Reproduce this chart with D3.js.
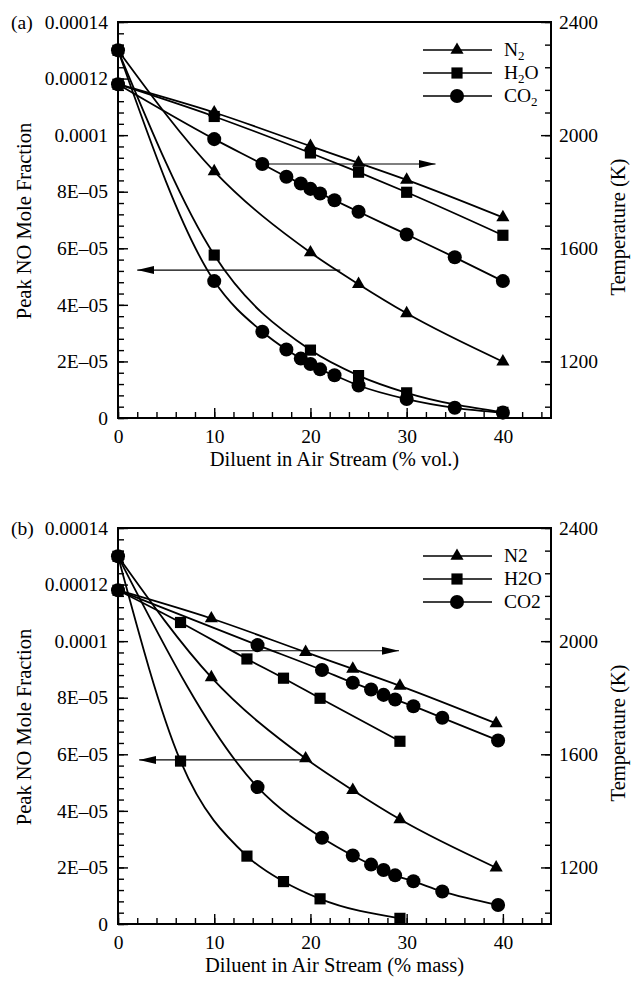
<!DOCTYPE html>
<html>
<head>
<meta charset="utf-8">
<script src="https://cdn.jsdelivr.net/npm/d3@7.9.0/dist/d3.min.js"></script>
<style>
  body { margin: 0; background: #fff; }
  svg text { font-family: "Liberation Serif", "Times New Roman", serif; fill: #000; }
</style>
</head>
<body>
<svg id="chart" width="631" height="981"></svg>
<script>
// diluent amount: (a) in % vol, (b) the same cases in % mass
const volN2 = [0, 10, 20, 25, 30, 40];
const volH2O = [0, 10, 20, 25, 30, 40];
const volCO2 = [0, 10, 15, 17.5, 19, 20, 21, 22.5, 25, 30, 35, 40];
const massN2 = [0, 9.7, 19.5, 24.4, 29.3, 39.3];
const massH2O = [0, 6.5, 13.4, 17.2, 21.0, 29.3];
const massCO2 = [0, 14.5, 21.2, 24.4, 26.3, 27.6, 28.8, 30.7, 33.7, 39.5];

// peak NO mole fraction (left axis)
const noN2 = [1.30e-4, 8.72e-5, 5.85e-5, 4.73e-5, 3.70e-5, 1.99e-5];
const noH2O = [1.30e-4, 5.76e-5, 2.40e-5, 1.50e-5, 8.9e-6, 2.0e-6];
const noCO2 = [1.30e-4, 4.84e-5, 3.05e-5, 2.42e-5, 2.10e-5, 1.91e-5, 1.72e-5, 1.51e-5, 1.15e-5, 6.7e-6, 3.6e-6, 1.9e-6];

// temperature, K (right axis)
const tN2 = [2180, 2080, 1961, 1902, 1842, 1709];
const tH2O = [2180, 2066, 1937, 1869, 1798, 1646];
const tCO2 = [2180, 1986, 1898, 1853, 1829, 1810, 1794, 1770, 1729, 1649, 1568, 1484];

const xTicks = [0, 10, 20, 30, 40];
const noTicks = [0, 2e-5, 4e-5, 6e-5, 8e-5, 1e-4, 1.2e-4, 1.4e-4];
const noTickLabels = ['0', '2E\u201305', '4E\u201305', '6E\u201305', '8E\u201305', '0.0001', '0.00012', '0.00014'];
const tTicks = [1200, 1600, 2000, 2400];

// arrows telling which axis a group of curves belongs to: [axis, level, fromX, toX]
const arrowsVol = [['no', 5.23e-5, 23.1, 2.0], ['t', 1898, 15, 33]];
const arrowsMass = [['no', 5.8e-5, 19.5, 2.2], ['t', 1966, 11.9, 29.2]];

const svg = d3.select('#chart');
const left = 118, right = 551, plotH = 396;
const serif = '"Liberation Serif", "Times New Roman", serif';

svg.append('defs').append('marker')
  .attr('id', 'head')
  .attr('markerUnits', 'userSpaceOnUse')
  .attr('markerWidth', 18).attr('markerHeight', 10)
  .attr('refX', 17).attr('refY', 5)
  .attr('orient', 'auto')
  .append('path').attr('d', 'M0,1L17,5L0,9Z').attr('fill', '#000');

const shapes = { N2: d3.symbolTriangle, H2O: d3.symbolSquare, CO2: d3.symbolCircle };
const sizes = { N2: 75, H2O: 125, CO2: 155 };

function drawPanel(p) {
  const g = svg.append('g');
  const bottom = p.top + plotH;
  const x = d3.scaleLinear().domain([0, 45]).range([left, right]);
  const yNO = d3.scaleLinear().domain([0, 1.4e-4]).range([bottom, p.top]);
  const yT = d3.scaleLinear().domain([1000, 2400]).range([bottom, p.top]);

  // ticks, all pointing into the plot
  const axes = g.append('g');
  axes.append('g').attr('transform', `translate(0,${bottom})`)
    .call(d3.axisBottom(x).tickValues(d3.range(0, 45, 2)).tickSize(-6).tickSizeOuter(0).tickFormat(''));
  axes.append('g').attr('transform', `translate(0,${bottom})`)
    .call(d3.axisBottom(x).tickValues(xTicks).tickSize(-10).tickSizeOuter(0).tickPadding(11).tickFormat(d3.format('d')));
  axes.append('g').attr('transform', `translate(${left},0)`)
    .call(d3.axisLeft(yNO).tickValues(d3.range(36).map(i => i * 4e-6)).tickSize(-6).tickSizeOuter(0).tickFormat(''));
  axes.append('g').attr('transform', `translate(${left},0)`)
    .call(d3.axisLeft(yNO).tickValues(noTicks).tickSize(-10).tickSizeOuter(0).tickPadding(10)
      .tickFormat((d, i) => noTickLabels[i]));
  axes.append('g').attr('transform', `translate(${right},0)`)
    .call(d3.axisRight(yT).tickValues(d3.range(1040, 2401, 80)).tickSize(-6).tickSizeOuter(0).tickFormat(''));
  axes.append('g').attr('transform', `translate(${right},0)`)
    .call(d3.axisRight(yT).tickValues(tTicks).tickSize(-10).tickSizeOuter(0).tickPadding(8).tickFormat(d3.format('d')));
  axes.selectAll('.domain').remove();
  axes.selectAll('g').attr('font-family', serif).attr('font-size', 19.5);
  axes.selectAll('line').attr('stroke-width', 1.4);

  g.append('rect')
    .attr('x', left).attr('y', p.top)
    .attr('width', right - left).attr('height', plotH)
    .attr('fill', 'none').attr('stroke', '#000').attr('stroke-width', 2);

  // curves
  const series = [];
  p.sets.forEach(s => {
    series.push({ key: s.key, pts: s.xs.map((v, i) => [x(v), yNO(s.no[i])]) });
    series.push({ key: s.key, pts: s.xs.map((v, i) => [x(v), yT(s.t[i])]) });
  });
  const line = d3.line().curve(d3.curveMonotoneX);
  g.selectAll('path.curve').data(series).join('path')
    .attr('class', 'curve')
    .attr('d', d => line(d.pts))
    .attr('fill', 'none').attr('stroke', '#000').attr('stroke-width', 1.8);

  series.forEach(s => {
    g.append('g').selectAll('path').data(s.pts).join('path')
      .attr('transform', d => `translate(${d[0]},${d[1]})`)
      .attr('d', d3.symbol(shapes[s.key], sizes[s.key]))
      .attr('fill', '#000');
  });

  // arrows
  p.arrows.forEach(([axis, lvl, from, to]) => {
    const yy = axis === 'no' ? yNO(lvl) : yT(lvl);
    g.append('line')
      .attr('x1', x(from)).attr('x2', x(to)).attr('y1', yy).attr('y2', yy)
      .attr('stroke', '#000').attr('stroke-width', 1.2)
      .attr('marker-end', 'url(#head)');
  });

  // legend
  p.sets.forEach((s, i) => {
    const ry = p.top + 28 + i * 23;
    g.append('line').attr('x1', 423).attr('x2', 492).attr('y1', ry).attr('y2', ry)
      .attr('stroke', '#000').attr('stroke-width', 1.3);
    g.append('path').attr('transform', `translate(457,${ry})`)
      .attr('d', d3.symbol(shapes[s.key], sizes[s.key])).attr('fill', '#000');
    const t = g.append('text').attr('x', 504).attr('y', ry + 5.5).attr('font-size', 19.5);
    if (p.subscripts) {
      const m = s.key.match(/^([A-Z]+)(\d)(.*)$/);
      t.append('tspan').text(m[1]);
      t.append('tspan').attr('font-size', 13).attr('dy', 4).text(m[2]);
      if (m[3]) t.append('tspan').attr('font-size', 19.5).attr('dy', -4).text(m[3]);
    } else {
      t.text(s.key);
    }
  });

  // labels
  g.append('text').attr('x', 11).attr('y', p.top + 6.5).attr('font-size', 19.5).text(p.tag);
  g.append('text')
    .attr('transform', `translate(31,${p.top + 199}) rotate(-90)`)
    .attr('text-anchor', 'middle').attr('font-size', 20.5)
    .text('Peak NO Mole Fraction');
  g.append('text')
    .attr('transform', `translate(625,${p.top + 205}) rotate(-90)`)
    .attr('text-anchor', 'middle').attr('font-size', 20.5)
    .text('Temperature (K)');
  g.append('text')
    .attr('x', (left + right) / 2).attr('y', bottom + 48)
    .attr('text-anchor', 'middle').attr('font-size', 20.5)
    .text(p.xlabel);
}

drawPanel({
  tag: '(a)', top: 22, subscripts: true,
  xlabel: 'Diluent in Air Stream (% vol.)',
  arrows: arrowsVol,
  sets: [
    { key: 'N2', xs: volN2, no: noN2, t: tN2 },
    { key: 'H2O', xs: volH2O, no: noH2O, t: tH2O },
    { key: 'CO2', xs: volCO2, no: noCO2, t: tCO2 }
  ]
});

drawPanel({
  tag: '(b)', top: 528, subscripts: false,
  xlabel: 'Diluent in Air Stream (% mass)',
  arrows: arrowsMass,
  sets: [
    { key: 'N2', xs: massN2, no: noN2, t: tN2 },
    { key: 'H2O', xs: massH2O, no: noH2O, t: tH2O },
    { key: 'CO2', xs: massCO2, no: noCO2.slice(0, massCO2.length), t: tCO2.slice(0, massCO2.length) }
  ]
});
</script>
</body>
</html>
